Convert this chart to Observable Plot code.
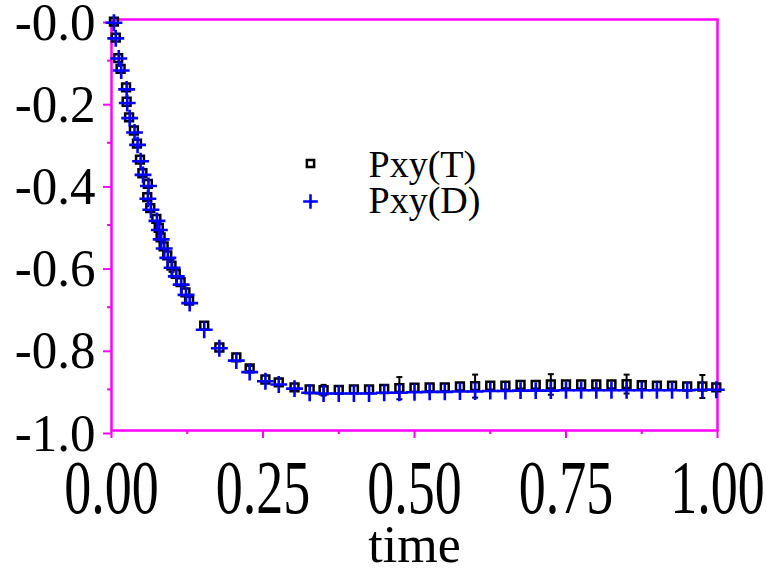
<!DOCTYPE html>
<html><head><meta charset="utf-8">
<script src="https://cdn.jsdelivr.net/npm/d3@7"></script>
<script src="https://cdn.jsdelivr.net/npm/@observablehq/plot@0.6"></script>
<style>
html,body{margin:0;padding:0;background:#fff;}
</style>
</head><body><div id="chart"></div>
<script>
// ---- data ----
const timeT = [0.004,0.007,0.011,0.015,0.024,0.025,0.029,0.037,0.042,0.047,0.051,0.060,0.059,0.064,0.074,0.078,0.081,0.086,0.092,0.099,0.106,0.114,0.122,0.128,
  0.153,0.178,0.206,0.228,0.254,0.276,0.302,
  0.327,0.350,0.375,0.400,0.425,0.450,0.475,0.500,0.525,0.550,0.575,0.600,0.625,0.650,0.675,0.700,0.725,0.750,0.775,0.800,0.825,0.850,0.875,0.900,0.925,0.950,0.975,0.998];
const valueT = [-0.005,-0.044,-0.094,-0.120,-0.165,-0.200,-0.238,-0.270,-0.302,-0.341,-0.374,-0.400,-0.432,-0.459,-0.485,-0.507,-0.530,-0.552,-0.574,-0.599,-0.619,-0.639,-0.664,-0.684,
  -0.745,-0.798,-0.822,-0.849,-0.876,-0.883,-0.895,
  -0.900,-0.902,-0.901,-0.900,-0.900,-0.899,-0.897,-0.896,-0.895,-0.895,-0.893,-0.892,-0.891,-0.891,-0.889,-0.889,-0.888,-0.888,-0.888,-0.888,-0.888,-0.887,-0.890,-0.891,-0.891,-0.893,-0.893,-0.895];
const errT = [0,0,0,0,0,0,0,0,0,0,0,0,0,0,0,0,0,0,0,0.015,0,0,0,0,
  0,0,0,0.006,0,0,0,
  0,0.013,0,0,0,0,0.027,0,0,0,0,0.028,0,0,0,0,0.025,0,0,0,0,0.023,0,0,0,0,0.028,0];
const timeD = [0.004,0.007,0.012,0.016,0.025,0.026,0.030,0.038,0.043,0.048,0.052,0.061,0.060,0.065,0.075,0.079,0.082,0.087,0.093,0.100,0.107,0.115,0.123,0.129,
  0.153,0.178,0.206,0.228,0.254,0.276,0.302,
  0.327,0.350,0.375,0.400,0.425,0.450,0.475,0.500,0.525,0.550,0.575,0.600,0.625,0.650,0.675,0.700,0.725,0.750,0.775,0.800,0.825,0.850,0.875,0.900,0.925,0.950,0.975,0.998];
const valueD = [-0.008,-0.046,-0.095,-0.124,-0.170,-0.203,-0.240,-0.275,-0.305,-0.345,-0.378,-0.405,-0.436,-0.463,-0.490,-0.512,-0.535,-0.557,-0.580,-0.604,-0.625,-0.645,-0.670,-0.690,
  -0.755,-0.800,-0.830,-0.858,-0.880,-0.888,-0.898,
  -0.908,-0.910,-0.910,-0.910,-0.910,-0.908,-0.908,-0.907,-0.906,-0.906,-0.905,-0.905,-0.904,-0.904,-0.903,-0.903,-0.903,-0.902,-0.902,-0.902,-0.902,-0.902,-0.902,-0.902,-0.902,-0.902,-0.901,-0.901];
const seriesNames = ["Pxy(T)", "Pxy(D)"];
const xTicks = [0, 0.25, 0.5, 0.75, 1];
const xTickLabels = ["0.00", "0.25", "0.50", "0.75", "1.00"];
const xMinor = [0.125, 0.375, 0.625, 0.875];
const yTicks = [-1, -0.8, -0.6, -0.4, -0.2, 0];
const yTickLabels = ["-1.0", "-0.8", "-0.6", "-0.4", "-0.2", "-0.0"];
const yMinor = [-0.9, -0.7, -0.5, -0.3, -0.1];
const xTitle = "time";

// ---- build tables ----
const T = timeT.map((t, i) => ({t, v: valueT[i], e: errT[i]}));
const D = timeD.map((t, i) => ({t, v: valueD[i]}));
const TE = T.filter(d => d.e > 0);
const xLab = new Map(xTicks.map((d, i) => [d, xTickLabels[i]]));
const yLab = new Map(yTicks.map((d, i) => [d, yTickLabels[i]]));
const MAG = "#ff00ff";
const FONT = '"Liberation Serif", "Times New Roman", Times, serif';
const cap = {draw(ctx, size) { const r = Math.sqrt(size / Math.PI); ctx.moveTo(-r, 0); ctx.lineTo(r, 0); }};

const svg = Plot.plot({
  width: 766, height: 570,
  marginLeft: 111, marginRight: 49, marginTop: 19, marginBottom: 140,
  style: {fontFamily: FONT, background: "white", color: "black", overflow: "visible"},
  x: {domain: [0, 1], label: null},
  y: {domain: [-1, 0], label: null},
  marks: [
    Plot.axisX({ticks: xMinor, tickSize: 4, stroke: MAG, strokeWidth: 2, tickFormat: () => "", label: null}),
    Plot.axisY({ticks: yMinor, tickSize: 4, stroke: MAG, strokeWidth: 2, tickFormat: () => "", label: null}),
    Plot.axisX({ticks: xTicks, tickSize: 8, tickPadding: 29, stroke: MAG, strokeWidth: 2, fill: "black", fontSize: 54, tickFormat: d => xLab.get(d), label: null}),
    Plot.axisY({ticks: yTicks, tickSize: 8, tickPadding: 8, dy: 3, stroke: MAG, strokeWidth: 2, fill: "black", fontSize: 51, tickFormat: d => yLab.get(d), label: null}),
    Plot.frame({stroke: MAG, strokeWidth: 2.5}),
    Plot.ruleX(TE, {x: "t", y1: d => d.v - d.e, y2: d => d.v + d.e, stroke: "black", strokeWidth: 2}),
    Plot.dot(TE, {x: "t", y: d => d.v - d.e, symbol: cap, r: 3, stroke: "black", strokeWidth: 2}),
    Plot.dot(TE, {x: "t", y: d => d.v + d.e, symbol: cap, r: 3, stroke: "black", strokeWidth: 2}),
    Plot.dot(T, {x: "t", y: "v", symbol: "square2", r: 5, stroke: "black", strokeWidth: 2.5}),
    Plot.dot(D, {x: "t", y: "v", symbol: "plus", r: 5.5, stroke: "#0000ff", strokeWidth: 2.6}),
    Plot.dot([seriesNames[0]], {frameAnchor: "top-left", dx: 199, dy: 144, symbol: "square2", r: 4.6, stroke: "black", strokeWidth: 2.5}),
    Plot.dot([seriesNames[1]], {frameAnchor: "top-left", dx: 199, dy: 182, symbol: "plus", r: 4.8, stroke: "#0000ff", strokeWidth: 2.6}),
    Plot.text([seriesNames[0]], {frameAnchor: "top-left", lineAnchor: "middle", dx: 257, dy: 145, text: d => d, textAnchor: "start", fontSize: 38, fill: "black"}),
    Plot.text([seriesNames[1]], {frameAnchor: "top-left", lineAnchor: "middle", dx: 257, dy: 181, text: d => d, textAnchor: "start", fontSize: 38, fill: "black"}),
    Plot.text([xTitle], {frameAnchor: "bottom", lineAnchor: "middle", dy: 115, text: d => d, fontSize: 52, fill: "black", ariaLabel: "x title"})
  ]
});
document.getElementById("chart").appendChild(svg);

// vertical stretch of text about its own centre (keeps existing transforms)
function stretch(sel, s) {
  svg.querySelectorAll(sel).forEach(el => {
    const b = el.getBBox();
    const cy = b.y + b.height / 2;
    const prev = el.getAttribute("transform") || "";
    el.setAttribute("transform", `${prev} translate(0,${cy}) scale(1,${s}) translate(0,${-cy})`);
  });
}
stretch('[aria-label="x-axis tick label"] text', 1.4);
stretch('[aria-label="x title"] text', 1.3);
stretch('[aria-label="y-axis tick label"] text', 1.05);
</script>
</body></html>
